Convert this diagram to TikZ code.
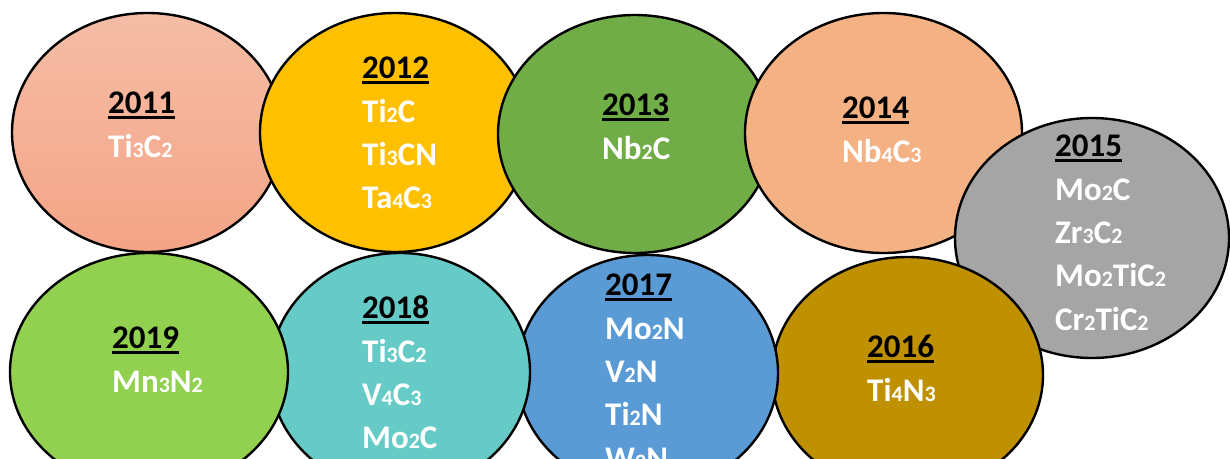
\documentclass[tikz,border=0pt]{standalone}
\usepackage{fontspec}
\setmainfont{Carlito}
\usetikzlibrary{shapes.geometric}

% small digits for the formula indices
\newcommand\sbs[1]{{\fontsize{22}{22}\selectfont#1}}
% year with a heavy rule under it
\newcommand\yearmark[1]{\setbox0\hbox{#1}\rlap{\vrule width\wd0 height -3.3pt depth 5.8pt}\box0}

\definecolor{cElevenTop}{HTML}{F5BDA6}
\definecolor{cElevenBot}{HTML}{F4A486}
\definecolor{cTwelve}{HTML}{FFC000}
\definecolor{cThirteen}{HTML}{70AD47}
\definecolor{cFourteen}{HTML}{F4B183}
\definecolor{cFifteen}{HTML}{A5A5A5}
\definecolor{cSixteen}{HTML}{BF9000}
\definecolor{cSeventeen}{HTML}{5B9BD5}
\definecolor{cEighteen}{HTML}{66CBC6}
\definecolor{cNineteen}{HTML}{92D050}

\tikzset{
  era/.style={ellipse, draw=black, line width=2.4pt, inner sep=0pt},
  yeartext/.style={anchor=base west, inner sep=0pt,
    font=\fontsize{33}{40}\selectfont\bfseries, text=black},
  formula/.style={anchor=base west, inner sep=0pt,
    font=\fontsize{33}{40}\selectfont\bfseries, text=white},
}

% #1 name, #2 left x, #3 baseline of the year, #4 year, #5 formulas
\newcommand\eralabel[5]{%
  \node[yeartext] (#1-y) at (#2,#3) {\yearmark{#4}};
  \foreach \t [count=\k] in {#5} {
    \pgfmathsetmacro\yy{#3+44.5+43.2*(\k-1)}
    \node[formula] (#1-\k) at (#2,\yy) {\t};
  }%
}

\begin{document}
\begin{tikzpicture}[x=1pt,y=-1pt]
\useasboundingbox (0,0) rectangle (1230,458);
\clip (0,0) rectangle (1230,458);

% upper row
\node[era, top color=cElevenTop, bottom color=cElevenBot,
      minimum width=271, minimum height=239] (e11) at (147.5,132.5) {};
\eralabel{e11}{108}{113}{2011}{Ti\sbs{3}C\sbs{2}}

\node[era, fill=cTwelve, minimum width=270, minimum height=239] (e12) at (395,132.5) {};
\eralabel{e12}{362}{78}{2012}{Ti\sbs{2}C, Ti\sbs{3}CN, Ta\sbs{4}C\sbs{3}}

\node[era, fill=cThirteen, minimum width=274, minimum height=238] (e13) at (635,134) {};
\eralabel{e13}{602}{115}{2013}{Nb\sbs{2}C}

\node[era, fill=cFourteen, minimum width=277, minimum height=240] (e14) at (883.5,133) {};
\eralabel{e14}{842}{118}{2014}{Nb\sbs{4}C\sbs{3}}

\node[era, fill=cFifteen, minimum width=274, minimum height=240] (e15) at (1092,238) {};
\eralabel{e15}{1055}{156}{2015}{Mo\sbs{2}C, Zr\sbs{3}C\sbs{2}, Mo\sbs{2}TiC\sbs{2}, Cr\sbs{2}TiC\sbs{2}}

% lower row
\node[era, fill=cSixteen, minimum width=271, minimum height=236] (e16) at (907.5,375) {};
\eralabel{e16}{867}{357}{2016}{Ti\sbs{4}N\sbs{3}}

\node[era, fill=cSeventeen, minimum width=261, minimum height=236] (e17) at (647.5,373) {};
\eralabel{e17}{605}{295}{2017}{Mo\sbs{2}N, V\sbs{2}N, Ti\sbs{2}N, W\sbs{2}N}

\node[era, fill=cEighteen, minimum width=260, minimum height=238] (e18) at (400,372) {};
\eralabel{e18}{362}{318}{2018}{Ti\sbs{3}C\sbs{2}, V\sbs{4}C\sbs{3}, Mo\sbs{2}C}

\node[era, fill=cNineteen, minimum width=278, minimum height=238] (e19) at (149,372) {};
\eralabel{e19}{112}{348}{2019}{Mn\sbs{3}N\sbs{2}}
\end{tikzpicture}
\end{document}
